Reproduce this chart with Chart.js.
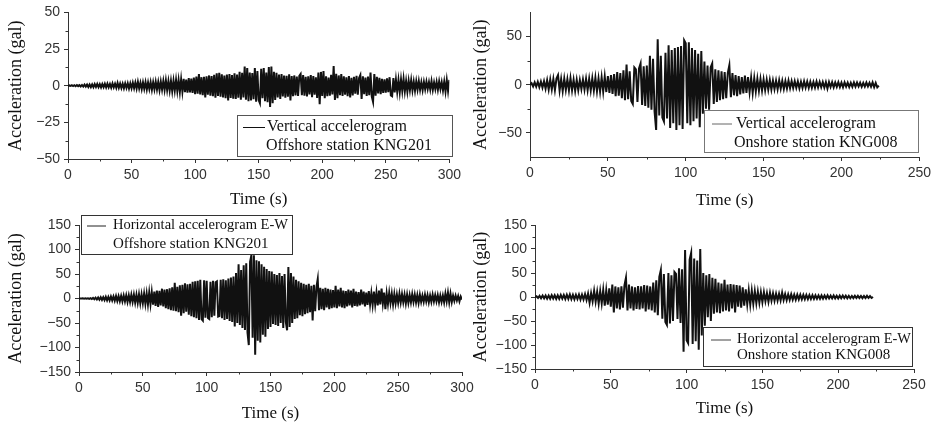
<!DOCTYPE html>
<html>
<head>
<meta charset="utf-8">
<script src="https://cdn.jsdelivr.net/npm/chart.js@4.4.1/dist/chart.umd.min.js"></script>
<style>
  body { margin: 0; background: #fff; }
  #wrap { position: relative; width: 935px; height: 424px; overflow: hidden; background: #fff; }
  canvas { position: absolute; }
</style>
</head>
<body>
<div id="wrap">
  <canvas id="c1" width="465" height="212"></canvas>
  <canvas id="c2" width="470" height="212"></canvas>
  <canvas id="c3" width="480" height="212"></canvas>
  <canvas id="c4" width="470" height="212"></canvas>
</div>
<script>
// one sample per second, values in gal
var step = 1;

var vertKNG201 = [
  0, 0.2, -0.2, 0.3, -0.3, 0.3, -0.4, 0.4, -0.3, 0.4,
  -0.5, 0.5, -0.6, 0.7, -0.6, 0.8, -0.9, 0.8, -1, 0.9,
  -1, 1.1, -0.9, 1.2, -1, 1, -1.2, 1.1, -1, 1.3,
  -1.2, 1.4, -1.1, 1.2, -1.4, 1.5, -1.2, 1.3, -1.5, 1.9,
  -1.4, 1.5, -1.6, 1.4, -1.8, 1.6, -1.5, 1.7, -1.9, 1.6,
  -1.8, 2, -1.7, 2.2, -2, 2.6, -1.9, 2.1, -2.4, 2.3,
  -2.2, 2.4, -2.6, 2.2, -2.3, 2.5, -2.8, 2.4, -2.5, 2.7,
  -2.6, 2.5, -3, 2.8, -2.7, 3.2, -2.9, 3.6, -3, 3.1,
  -3.4, 3.2, -3.8, 3.5, -3.3, 4, -3.6, 3.8, -4.2, 4.4,
  -4, 4.6, -4.4, 4.2, -4.8, 5.2, -4.5, 4.8, -5, 5.5,
  -5.8, 6.2, -5.5, 8, -6, 5.8, -6.5, 6, -8, 6.4,
  -6.2, 7, -6.8, 6.6, -7.2, 7.5, -8.2, 8.5, -7, 8.8,
  -7.5, 7.8, -8, 7, -8.5, 7.6, -10, 8, -8.4, 7.2,
  -8.8, 8.4, -9, 7.6, -8.2, 9.5, -9.6, 8.8, -8, 13,
  -9.5, 12, -10.5, 9, -10, 8.6, -9.2, 12, -11, 10,
  -9.8, -12, 11.5, -8.6, 12, -10.5, 9, -11.2, 12.8, -14.5,
  13, -12, 9.5, -9.8, 8.8, -8, 7.6, -9, 8, -7.4,
  7, -8.2, 6.8, -7.5, 7.8, -10, 6.6, -7.2, 7, -6.6,
  6.2, -7, 6.8, 8, -6.4, 7.2, -6.8, 6, -7.4, 6.4,
  -6, 7.2, -7.8, 6.6, -6.2, 5.8, -8.4, 9, -12.6, 9.4,
  -7, 10, -8.6, 6.4, -7.2, 5.6, -6.8, 7.4, -6, 13.4,
  -9.8, 8.2, -8.6, 7, -6.4, 8, -7, 6.4, -6.2, 5.8,
  -7.2, 6.6, -8, 5.4, -6.6, 6, -5.4, 6.8, -6.2, 5.2,
  7.2, -9, 6.4, -5.8, 5.6, -7, 6.2, -6.4, 9, -7.4,
  -11, 8, -6.8, 6, -5.2, 5.4, -5.8, 4.6, -5, 4.4,
  -4.8, 5, -4.4, 5.8, -6.6, -7.2, 5.2, -4.6, 4, -4.2,
  3.8, -4.4, 4.2, -3.6, 4.6, -3.8, 3.2, -4, 3.4, -3,
  3.8, -3.2, 2.8, -3.4, 3, -2.6, 3.2, -2.8, 2.4, -3,
  2.6, -2.4, 2.8, -2.2, 2.4, -2.6, 3.2, -2.8, 2.2, -2.4,
  2.6, -2.8, 3, -2.2, 2.4, -3.2, 2.8, -4, 3.8, -3.6,
  4
];

var vertKNG008 = [
  0, 1.5, -1.8, 2.4, -2, 3, -2.6, 3.2, -3, 3.6,
  -4, 4.6, -5, 5.4, -4.8, 6, -5.6, 6.4, 10, -6,
  5.8, -6.6, 6.2, -5.4, 5.6, -6, 6.8, -5.8, 5.2, -6.4,
  5, -5.6, 4.8, -4.4, 5.4, -5, 6, -5.6, 6.2, -5.8,
  6.6, -6, 7.2, -6.8, 6.4, -7, 7.6, -7.2, 8.4, -7.6,
  9, -8.4, 10, -9.6, 11, -12, 13, -11.4, 12, -14,
  15, -16, 21, -15, 14, -17, -20, 18, 16, -18,
  17, 22, -21, 19, -22, 20, -24, 30, -26, 27,
  -28, -47, 47, -32, 30, -34, -38, 33, -35, 41,
  -45, 36, -40, 38, -47, 39, -42, 40, -46, 46,
  43, -40, 44, -42, 38, -38, 36, -35, 32, -44,
  35, -30, 24, -25, 20, -26, 18, 22, -20, 16,
  -18, 15, -16, 14, -15, 13, -14, 12, 20, -13,
  12, -11, 10, -12, 9, -10, 8, -9, 9.4, -8.6,
  8, -7.6, 7.2, -8.4, 6.8, -7, 6.2, -6.4, 5.8, -6,
  5.4, -5.6, 5, -5.2, 4.8, -5, 4.4, -4.6, 4.2, -4.8,
  4.6, -4.2, 4, -4.4, 3.8, -4, 4.2, -3.6, 3.8, -3.4,
  3.6, -3.2, 3.4, -3.8, 3, -3.4, 3.6, -3, 3.2, -3.4,
  3, -3.2, 2.8, -3, 3.4, -2.8, 3, -2.6, 2.8, -3,
  2.6, -4, 2.8, -2.4, 2.6, -2.8, 2.4, -2.2, 2.6, -2.4,
  2.2, -2.6, 2.4, -2, 2.2, -2.4, 2, -2.2, 2.4, -2,
  2.2, -1.8, 2, -2.2, 1.8, -2, 2.2, -1.8, 2, -2,
  2.4, -2.6, 1.8, -2.8, -1
];

var ewKNG201 = [
  0, 0.2, -0.2, 0.3, -0.4, 0.3, -0.5, 0.4, -0.6, 0.6,
  -1, 1.2, -1.5, 1.6, -2, 2.2, -2.4, 2.6, -3, 2.8,
  -3.2, 3.5, -3.6, 3.4, -4, 4.2, -3.8, 4.4, -4.6, 5,
  -5.2, 4.8, -5.6, 5.4, -6, 6.2, -5.8, 6.6, -7, 6.4,
  -7.2, 7.6, -7, 8, -8.4, 7.8, -9, 8.6, -10, 8.4,
  -9.6, 10, -11, 10.4, -12, 12.4, -11.6, 13, -12.6, 14,
  -15, 16, -17, 15.4, -14, 20, -16, 18, -20, 19,
  -22, 21, -24, 23, -25, 32, -26, 24, -28, 27,
  -35, 28, -30, 31, -27, 29, -33, 30, -36, 34,
  -38, 35, -40, 36, -44, 38, -42, -45, 37, -39,
  36, -40, -42, 34, -38, 36, -35, 33, 35, -37,
  -36, 38, -40, 39, -44, 37, -42, 41, -46, 43,
  -48, 45, -57, 52, -50, 70, -54, 58, -60, 68,
  -64, 72, -70, -95, 75, 88, -80, 88, -115, 78,
  -86, 76, -90, 70, -74, 65, -78, 60, -62, 56,
  -58, 55, -52, 50, -54, 48, -56, 52, -50, 46,
  -60, 50, -48, -65, 64, -58, 52, -50, 45, -42,
  38, -40, 35, -34, 32, -36, 30, -32, 28, -30,
  30, -28, 26, -45, 28, -26, 24, 40, -24, 22,
  -22, 20, -24, 22, -18, 20, -22, 18, -20, 17,
  -18, 26, -20, 18, -16, 22, -18, 16, -20, 15,
  -16, 18, -14, 16, -18, 20, -15, 14, -16, 13,
  -14, 18, -12, 14, -16, 12, -13, 15, -12, 11,
  -13, 14, -12, 12, -14, 16, -12, 20, -10, 12,
  -22, 10, -11, 12, -9, 10, -12, 9, -10, 8,
  -9, 10, -8, 9, -8, 8, -10, 8, -9, 7,
  -8, 9, -7, 8, -8, 7, -9, 8, -7, 6,
  -7, 8, -6, 7, -8, 6, -7, 8, -6, 7,
  -6, 7, -8, 6, -7, 6, -8, 10, -6, 12,
  -8, 10, -7, 6, -5, 6, -4, 5, -6, 4,
  -2
];

var ewKNG008 = [
  0, 1.5, -2, 2.4, -2.6, 3, -2.8, 3.2, -3.4, 3,
  -3.6, 3.8, -3.2, 3.6, -4, 3.4, -3.8, 4.2, -3.6, 4,
  -4.4, 4.8, -4, 5.2, -4.6, 4.4, -5, 4.6, -4.2, 5,
  -5.4, 4.8, -5.2, 6, -6.4, 7.2, -12, 8, -9, 13,
  -10, 11, -14, 12, -13, 15, -18, 14, -16, 18,
  -20, 26, -32, 22, -24, 20, -26, 22, -22, 24,
  40, -28, 26, -24, 22, -28, 20, -25, 23, -26,
  22, -24, 25, -30, 24, -26, 22, -28, 30, -32,
  35, -38, 42, 56, -45, 48, -52, -58, 50, -55,
  45, -50, 52, 48, -46, 60, -54, 58, -114, 98,
  -90, -96, 78, 92, -98, 80, -92, 76, -110, 100,
  -80, 50, -60, 45, -42, 48, -50, 40, -35, 38,
  -32, 30, -34, 28, -30, 36, -28, 26, -30, 27,
  -24, 26, -32, 25, -20, 24, -22, 20, -18, 16,
  -15, 14, -16, 13, -14, 12, -13, 11, -12, 10,
  -11, 10, -9, 8, -10, 9, -8, 7.6, -8, 7,
  -7.4, 6.8, -7, 9, -6.4, 6, -6.6, 5.6, -6, 5.8,
  -5.4, 5, -5.6, 4.8, -5, 4.6, -4.8, 4.4, -4.6, 4.2,
  -4.4, 4, -4.2, 3.8, -4, 3.6, -3.8, 3.4, -3.6, 3.2,
  -3.4, 3, -3.2, 3.4, -3, 2.8, -3, 3.2, -2.8, 2.6,
  -3, 2.8, -2.6, 3, -2.4, 2.6, -2.8, 2.4, -2.6, 2.2,
  -2.4, 2.6, -2.2, 2.4, -2, 2.2, -2.4, 2, -2.2, 2.4,
  -2, 2, -1.8, 0
];

// tick values
var timeTicks300 = [0, 50, 100, 150, 200, 250, 300];
var timeMinor300 = [25, 75, 125, 175, 225, 275];
var timeTicks250 = [0, 50, 100, 150, 200, 250];
var timeMinor250 = [25, 75, 125, 175, 225];
var accTicks50 = [-50, -25, 0, 25, 50];
var accMinor50 = [-37.5, -12.5, 12.5, 37.5];
var accTicks75 = [-50, 0, 50];
var accMinor75 = [-25, 25];
var accTicks150 = [-150, -100, -50, 0, 50, 100, 150];
var accMinor150 = [-125, -75, -25, 25, 75, 125];

var ink = '#333';
var tickFont = { family: '"Liberation Sans", Arial, sans-serif', size: 14 };
var xTitleFont = { family: '"Liberation Serif", "Times New Roman", serif', size: 17 };
var yTitleFont = { family: '"Liberation Serif", "Times New Roman", serif', size: 18 };
var serif = '"Liberation Serif", "Times New Roman", serif';

function toPoints(vals) {
  return vals.map(function (v, i) { return { x: i * step, y: v }; });
}

function asTicks(arr) {
  return arr.map(function (v) { return { value: v }; });
}

function makePanel(p) {
  var cv = document.getElementById(p.id);
  cv.style.left = p.left + 'px';
  cv.style.top = p.top + 'px';

  var deco = {
    id: 'deco',
    afterDraw: function (chart) {
      var ctx = chart.ctx, xs = chart.scales.x, ys = chart.scales.y, a = chart.chartArea;
      ctx.save();
      ctx.strokeStyle = ink;
      ctx.lineWidth = 1;
      p.xMinor.forEach(function (v) {
        var px = Math.round(xs.getPixelForValue(v)) + 0.5;
        ctx.beginPath(); ctx.moveTo(px, a.bottom); ctx.lineTo(px, a.bottom + 2.5); ctx.stroke();
      });
      p.yMinor.forEach(function (v) {
        var py = Math.round(ys.getPixelForValue(v)) + 0.5;
        ctx.beginPath(); ctx.moveTo(a.left, py); ctx.lineTo(a.left - 2.5, py); ctx.stroke();
      });

      // legend box
      var L = p.legend;
      ctx.fillStyle = '#fff';
      ctx.fillRect(L.x, L.y, L.w, L.h);
      ctx.strokeStyle = L.border;
      ctx.strokeRect(L.x + 0.5, L.y + 0.5, L.w, L.h);
      ctx.strokeStyle = L.lineColor;
      ctx.beginPath(); ctx.moveTo(L.l0, L.r1 + 0.5); ctx.lineTo(L.l1, L.r1 + 0.5); ctx.stroke();
      ctx.fillStyle = '#111';
      ctx.font = L.size + 'px ' + serif;
      ctx.textBaseline = 'middle';
      ctx.fillText(L.text[0], L.t1, L.r1, L.maxW[0]);
      ctx.fillText(L.text[1], L.t2, L.r2, L.maxW[1]);
      ctx.restore();
    }
  };

  new Chart(cv.getContext('2d'), {
    type: 'line',
    data: {
      datasets: [{
        data: toPoints(p.values),
        borderColor: '#111',
        borderWidth: 2,
        pointRadius: 0,
        tension: 0
      }]
    },
    options: {
      responsive: false,
      animation: false,
      devicePixelRatio: 1,
      layout: { padding: { left: 0, top: p.padTop, right: p.padRight, bottom: 0 } },
      plugins: { legend: { display: false }, tooltip: { enabled: false } },
      scales: {
        x: {
          type: 'linear',
          min: 0,
          max: p.xMax,
          afterBuildTicks: function (s) { s.ticks = asTicks(p.xTicks); },
          afterFit: function (s) { s.height = p.xAxisH; },
          grid: { drawOnChartArea: false, tickLength: 4, color: ink },
          border: { color: ink },
          ticks: { font: tickFont, color: ink, padding: 4, maxRotation: 0, autoSkip: false },
          title: { display: true, text: 'Time (s)', font: xTitleFont, color: '#111', padding: { top: 0, bottom: p.xTitlePad } }
        },
        y: {
          type: 'linear',
          min: p.yMin,
          max: p.yMax,
          afterBuildTicks: function (s) { s.ticks = asTicks(p.yTicks); },
          afterFit: function (s) { s.width = p.yAxisW; },
          grid: { drawOnChartArea: false, tickLength: 4, color: ink },
          border: { color: ink },
          ticks: {
            font: tickFont, color: ink, padding: 4, autoSkip: false,
            callback: function (v) { return v < 0 ? '\u2212' + Math.abs(v) : String(v); }
          },
          title: { display: true, text: 'Acceleration (gal)', font: yTitleFont, color: '#111', padding: { top: p.yTitlePad, bottom: 0 } }
        }
      }
    },
    plugins: [deco]
  });
}

makePanel({
  id: 'c1', left: 0, top: 0,
  values: vertKNG201, xMax: 300, xTicks: timeTicks300, xMinor: timeMinor300,
  yMin: -50, yMax: 50, yTicks: accTicks50, yMinor: accMinor50,
  padTop: 11, padRight: 13, yAxisW: 68, xAxisH: 53, yTitlePad: 5, xTitlePad: 2,
  legend: { x: 237, y: 115, w: 215, h: 41, border: '#555', lineColor: '#111',
    l0: 243, l1: 265, t1: 267, t2: 266, r1: 127, r2: 145.5, size: 16, maxW: [145, 170],
    text: ['Vertical accelerogram', 'Offshore station KNG201'] }
});

makePanel({
  id: 'c2', left: 465, top: 0,
  values: vertKNG008, xMax: 250, xTicks: timeTicks250, xMinor: timeMinor250,
  yMin: -75, yMax: 75, yTicks: accTicks75, yMinor: accMinor75,
  padTop: 9, padRight: 14, yAxisW: 65, xAxisH: 55, yTitlePad: 5, xTitlePad: 1,
  legend: { x: 239, y: 110, w: 214, h: 42, border: '#777', lineColor: '#666',
    l0: 247, l1: 267, t1: 271, t2: 269, r1: 123.5, r2: 142.5, size: 16, maxW: [146, 178],
    text: ['Vertical accelerogram', 'Onshore station KNG008'] }
});

makePanel({
  id: 'c3', left: 0, top: 212,
  values: ewKNG201, xMax: 300, xTicks: timeTicks300, xMinor: timeMinor300,
  yMin: -150, yMax: 150, yTicks: accTicks150, yMinor: accMinor150,
  padTop: 13, padRight: 18, yAxisW: 79, xAxisH: 52, yTitlePad: 5, xTitlePad: 0,
  legend: { x: 81, y: 3, w: 211, h: 39, border: '#333', lineColor: '#222',
    l0: 87, l1: 106, t1: 113, t2: 113, r1: 13.5, r2: 32, size: 15, maxW: [175, 172],
    text: ['Horizontal accelerogram E-W', 'Offshore station KNG201'] }
});

makePanel({
  id: 'c4', left: 465, top: 212,
  values: ewKNG008, xMax: 250, xTicks: timeTicks250, xMinor: timeMinor250,
  yMin: -150, yMax: 150, yTicks: accTicks150, yMinor: accMinor150,
  padTop: 13, padRight: 21, yAxisW: 70, xAxisH: 55, yTitlePad: 5, xTitlePad: 5,
  legend: { x: 238, y: 115, w: 209, h: 39, border: '#333', lineColor: '#444',
    l0: 246, l1: 266, t1: 272, t2: 272, r1: 127.5, r2: 143.5, size: 15, maxW: [174, 160],
    text: ['Horizontal accelerogram E-W', 'Onshore station KNG008'] }
});
</script>
</body>
</html>
